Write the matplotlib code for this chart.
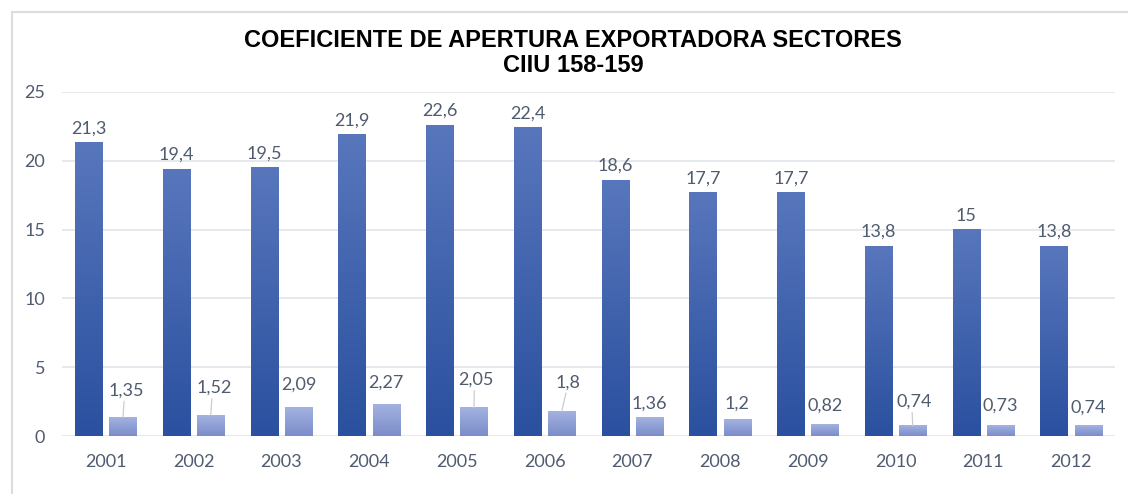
import matplotlib
matplotlib.use('Agg')
import matplotlib.pyplot as plt
from matplotlib.patches import Rectangle
import numpy as np

# data
years = ['2001', '2002', '2003', '2004', '2005', '2006',
         '2007', '2008', '2009', '2010', '2011', '2012']
serie_a = [21.3, 19.4, 19.5, 21.9, 22.6, 22.4, 18.6, 17.7, 17.7, 13.8, 15, 13.8]
serie_b = [1.35, 1.52, 2.09, 2.27, 2.05, 1.8, 1.36, 1.2, 0.82, 0.74, 0.73, 0.74]

# label placement for the small bars (pixel offsets, moved by hand like in Excel)
b_label_dy = [27, 27, 23, 22, 28, 29, 14, 16, 19, 24, 20, 18]
b_label_dx = [3, 3, 0, 0, 2, 6, 0, 0, 0, 1, 0, 0]
b_leader = [True, True, False, False, True, True, False, False, False, True, False, False]

text_col = '#4f5b6e'
grid_col = '#e3e6ec'


def fmt(v):
    s = ('%g' % v).replace('.', ',')
    return s


def gradient_fill(ax, bars, top_col, bot_col):
    c_top = np.array(matplotlib.colors.to_rgb(top_col))
    c_bot = np.array(matplotlib.colors.to_rgb(bot_col))
    t = np.linspace(0, 1, 100)[:, None]
    img = (c_top * (1 - t) + c_bot * t)[:, None, :]
    for b in bars:
        x0, w, h = b.get_x(), b.get_width(), b.get_height()
        ax.imshow(img, extent=(x0, x0 + w, 0, h), aspect='auto', zorder=2,
                  interpolation='bilinear')
        b.set_visible(False)


fig = plt.figure(figsize=(11.28, 4.94), dpi=100)
ax = fig.add_axes([0.055, 0.1174, 0.9335, 0.6964])

x = np.arange(len(years))
w = 0.31
off = 0.195
bars_a = ax.bar(x - off, serie_a, w, linewidth=0, zorder=3)
bars_b = ax.bar(x + off, serie_b, w, linewidth=0, zorder=3)
gradient_fill(ax, bars_a, '#5876bc', '#2a509f')
gradient_fill(ax, bars_b, '#a3b2e0', '#7b8dca')

for xi, v in zip(x - off, serie_a):
    ax.annotate(fmt(v), (xi, v), xytext=(0, 6), textcoords='offset pixels',
                ha='center', va='bottom', fontsize=13, color=text_col,
                family='Lato')

for xi, v, dx, dy, lead in zip(x + off, serie_b, b_label_dx, b_label_dy, b_leader):
    arrow = None
    if lead:
        arrow = dict(arrowstyle='-', color='#c8ccd4', lw=0.9,
                     shrinkA=0, shrinkB=0, relpos=(0.45, 0.0))
    ax.annotate(fmt(v), (xi, v), xytext=(dx, dy), textcoords='offset pixels',
                ha='center', va='center', fontsize=13, color=text_col,
                family='Lato', arrowprops=arrow)

ax.set_xlim(-0.5, len(years) - 0.5)
ax.set_ylim(0, 25)
ax.set_yticks([0, 5, 10, 15, 20, 25])
ax.set_xticks(x)
ax.set_xticklabels(years)
ax.tick_params(length=0, labelsize=13, labelcolor=text_col)
ax.tick_params(axis='y', pad=12)
ax.tick_params(axis='x', pad=13)
for lab in ax.get_xticklabels() + ax.get_yticklabels():
    lab.set_family('Lato')
ax.grid(axis='y', color=grid_col, lw=1.3, zorder=0)
ax.set_axisbelow(True)
for s in ax.spines.values():
    s.set_visible(False)

fig.text(0.508, 0.893, 'COEFICIENTE DE APERTURA EXPORTADORA SECTORES\nCIIU 158-159',
         ha='center', va='center', fontsize=17, fontweight='bold',
         family='Liberation Sans', linespacing=1.08)

fig.patches.append(Rectangle((12 / 1128, -0.2), 1.2, 1.2 - 12 / 494,
                             transform=fig.transFigure, fill=False,
                             edgecolor='#d9dce1', lw=1.5))

fig.savefig('out.png', dpi=100)
